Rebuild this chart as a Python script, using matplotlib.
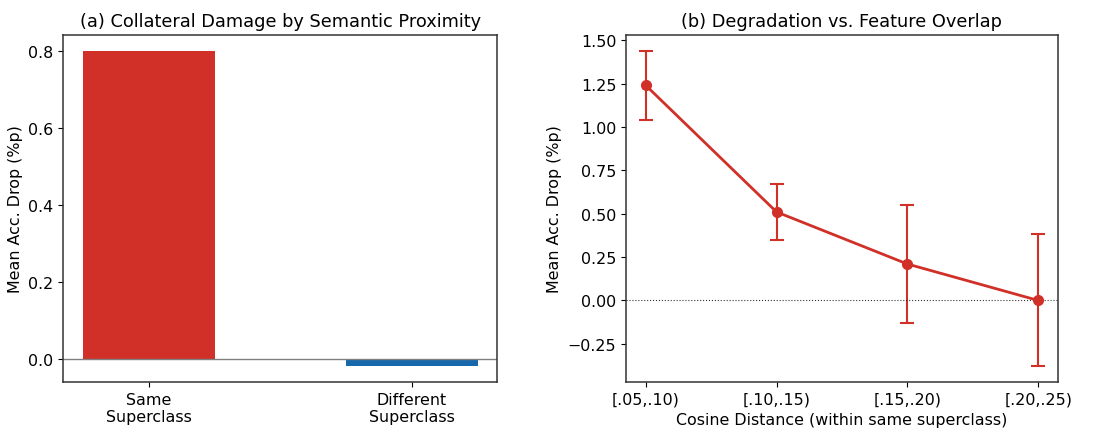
import numpy as np
import matplotlib
matplotlib.use('Agg')
import matplotlib.pyplot as plt

# panel (a)
groups = ['Same\nSuperclass', 'Different\nSuperclass']
drops = [0.80, -0.02]
bar_colors = ['#d03027', '#1668aa']

# panel (b)
bins = ['[.05,.10)', '[.10,.15)', '[.15,.20)', '[.20,.25)']
mean_drop = [1.24, 0.51, 0.21, 0.00]
err = [0.20, 0.16, 0.34, 0.38]

plt.rcParams['font.size'] = 11.4
plt.rcParams['axes.edgecolor'] = '#333333'
plt.rcParams['axes.linewidth'] = 1.1

fig = plt.figure(figsize=(11.1, 4.31), dpi=100)
ax1 = fig.add_axes([0.057, 0.111, 0.391, 0.806])
ax2 = fig.add_axes([0.564, 0.111, 0.389, 0.806])

x = np.arange(len(groups))
ax1.bar(x, drops, width=0.5, color=bar_colors)
ax1.axhline(0, color='grey', lw=1)
ax1.set_xticks(x)
ax1.set_xticklabels(groups)
ax1.set_ylabel('Mean Acc. Drop (%p)')
ax1.set_title('(a) Collateral Damage by Semantic Proximity', fontsize=12.8)

xb = np.arange(len(bins))
ax2.errorbar(xb, mean_drop, yerr=err, color='#d03027', marker='o', ms=7,
             lw=2, capsize=5, elinewidth=1.5, capthick=1.5)
ax2.axhline(0, color='black', ls=':', lw=0.8, alpha=0.8)
ax2.set_xticks(xb)
ax2.set_xticklabels(bins)
ax2.set_xlabel('Cosine Distance (within same superclass)')
ax2.set_ylabel('Mean Acc. Drop (%p)')
ax2.set_title('(b) Degradation vs. Feature Overlap', fontsize=12.8)

fig.savefig('out.png', dpi=100)
